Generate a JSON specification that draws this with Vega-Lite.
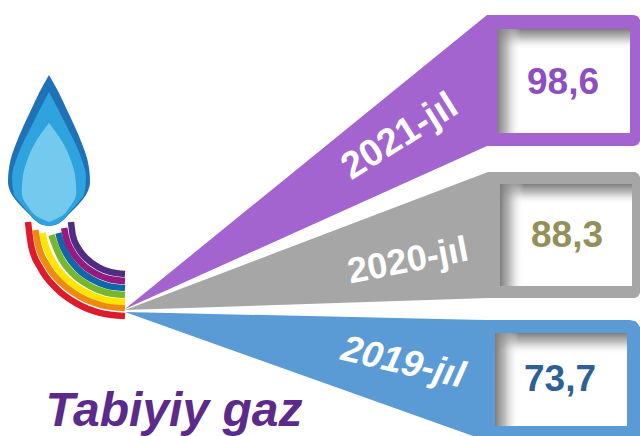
{"$schema":"https://vega.github.io/schema/vega-lite/v6.json","width":640,"height":436,"padding":0,"autosize":"none","background":"white","view":{"stroke":null},
"config":{"text":{"font":"Liberation Sans","fontWeight":"bold"}},
"datasets":{
"wedges":[
{"k":"2021-jıl","x":125,"a":309,"b":309},{"k":"2021-jıl","x":487,"a":15,"b":146},{"k":"2021-jıl","x":634,"a":15,"b":146},{"k":"2021-jıl","x":638,"a":16.5,"b":144.5},{"k":"2021-jıl","x":640,"a":20,"b":141},
{"k":"2020-jıl","x":125,"a":310,"b":310},{"k":"2020-jıl","x":488,"a":172,"b":298},{"k":"2020-jıl","x":635,"a":172,"b":298},{"k":"2020-jıl","x":638,"a":173.5,"b":296.5},{"k":"2020-jıl","x":640,"a":177,"b":293},
{"k":"2019-jıl","x":125,"a":312,"b":312},{"k":"2019-jıl","x":473,"a":319.7,"b":436},{"k":"2019-jıl","x":487,"a":320,"b":436},{"k":"2019-jıl","x":630,"a":320,"b":436},{"k":"2019-jıl","x":636,"a":321.5,"b":436},{"k":"2019-jıl","x":640,"a":327,"b":436}],
"boxes":[
{"k":"2021-jıl","x0":497,"x1":630,"y0":29,"y1":133,"xs":521,"ys":50},
{"k":"2020-jıl","x0":500,"x1":632,"y0":184,"y1":286,"xs":524,"ys":205},
{"k":"2019-jıl","x0":495,"x1":627,"y0":333,"y1":426,"xs":519,"ys":355}],
"flame":[
{"p":"a","y":75,"l":49,"r":49},{"p":"a","y":93,"l":39,"r":59},{"p":"a","y":110,"l":31,"r":67},{"p":"a","y":127,"l":23,"r":75},{"p":"a","y":145,"l":15.5,"r":82.5},{"p":"a","y":160,"l":10.5,"r":87.5},{"p":"a","y":172,"l":8.5,"r":89.5},{"p":"a","y":182,"l":8,"r":90},{"p":"a","y":193,"l":11,"r":87},{"p":"a","y":205,"l":20,"r":78},{"p":"a","y":214,"l":29,"r":69},{"p":"a","y":221,"l":36,"r":62},{"p":"a","y":225,"l":43,"r":55},{"p":"a","y":226,"l":49,"r":49},
{"p":"b","y":92,"l":49,"r":49},{"p":"b","y":110,"l":39.5,"r":58.5},{"p":"b","y":127,"l":31,"r":67},{"p":"b","y":145,"l":22,"r":76},{"p":"b","y":160,"l":16,"r":82},{"p":"b","y":177,"l":12,"r":86},{"p":"b","y":193,"l":13.5,"r":84.5},{"p":"b","y":205,"l":22,"r":76},{"p":"b","y":214,"l":30,"r":68},{"p":"b","y":221,"l":37,"r":61},{"p":"b","y":225,"l":44,"r":54},{"p":"b","y":226,"l":49,"r":49},
{"p":"c","y":123,"l":49,"r":49},{"p":"c","y":143,"l":35,"r":63},{"p":"c","y":160,"l":27.3,"r":70.7},{"p":"c","y":177,"l":22.7,"r":75.3},{"p":"c","y":193,"l":21.7,"r":76.3},{"p":"c","y":207,"l":28.3,"r":69.7},{"p":"c","y":217,"l":38,"r":60},{"p":"c","y":222,"l":49,"r":49}],
"rainbow":[
{"b":"red","x":28,"y":222},{"b":"red","x":31.3,"y":246.3},{"b":"red","x":41,"y":269},{"b":"red","x":56.4,"y":288.5},{"b":"red","x":76.5,"y":303.4},{"b":"red","x":99.9,"y":312.8},{"b":"red","x":125,"y":316},
{"b":"orange","x":35.4,"y":230},{"b":"orange","x":38,"y":244},{"b":"orange","x":47,"y":265},{"b":"orange","x":61.4,"y":282.8},{"b":"orange","x":80,"y":296.5},{"b":"orange","x":101.7,"y":305},{"b":"orange","x":125,"y":308},
{"b":"yellow","x":42.3,"y":233},{"b":"yellow","x":44.8,"y":243},{"b":"yellow","x":53,"y":262},{"b":"yellow","x":66.3,"y":278.6},{"b":"yellow","x":83.5,"y":291},{"b":"yellow","x":103.5,"y":299.3},{"b":"yellow","x":125,"y":302},
{"b":"green","x":51.5,"y":235},{"b":"green","x":53.5,"y":241},{"b":"green","x":61,"y":258.5},{"b":"green","x":72.7,"y":273.6},{"b":"green","x":88,"y":285},{"b":"green","x":105.8,"y":292.5},{"b":"green","x":125,"y":295},
{"b":"blue","x":58.5,"y":233},{"b":"blue","x":60,"y":239},{"b":"blue","x":67,"y":255},{"b":"blue","x":77.6,"y":268.7},{"b":"blue","x":91.5,"y":279},{"b":"blue","x":107.6,"y":285.8},{"b":"blue","x":125,"y":288},
{"b":"purple","x":64.2,"y":228},{"b":"purple","x":66,"y":237.3},{"b":"purple","x":72.2,"y":251.5},{"b":"purple","x":81.9,"y":263.7},{"b":"purple","x":94.5,"y":273},{"b":"purple","x":109.2,"y":279},{"b":"purple","x":125,"y":281},
{"b":"indigo","x":71,"y":222},{"b":"indigo","x":72.8,"y":235.5},{"b":"indigo","x":78.2,"y":248},{"b":"indigo","x":86.8,"y":258.8},{"b":"indigo","x":98,"y":267},{"b":"indigo","x":111,"y":272.2},{"b":"indigo","x":125,"y":274}],
"values":[
{"k":"2021-jıl","v":"98,6","x":563,"y":83},
{"k":"2020-jıl","v":"88,3","x":567,"y":236},
{"k":"2019-jıl","v":"73,7","x":560,"y":380}]
},
"layer":[
{"data":{"name":"wedges"},"mark":{"type":"area","interpolate":"linear","orient":"vertical"},
 "encoding":{"x":{"field":"x","type":"quantitative","scale":{"domain":[0,640],"nice":false,"zero":false},"axis":null},"y":{"field":"a","type":"quantitative","scale":{"domain":[436,0],"nice":false,"zero":false},"axis":null},"y2":{"field":"b"},
 "color":{"field":"k","type":"nominal","legend":null,"scale":{"domain":["2021-jıl","2020-jıl","2019-jıl"],"range":["#a364cf","#a6a6a6","#5b9bd5"]}}}},
{"data":{"name":"boxes"},"mark":{"type":"rect","color":"white"},"encoding":{"x":{"field":"x0","type":"quantitative"},"x2":{"field":"x1"},"y":{"field":"y0","type":"quantitative"},"y2":{"field":"y1"}}},
{"data":{"name":"boxes"},"mark":{"type":"rect","color":{"gradient":"linear","x1":0,"x2":0,"y1":0,"y2":1,"stops":[{"offset":0,"color":"rgba(125,125,125,1)"},{"offset":0.4,"color":"rgba(160,160,160,0.7)"},{"offset":1,"color":"rgba(255,255,255,0)"}]}},"encoding":{"x":{"field":"x0","type":"quantitative"},"x2":{"field":"x1"},"y":{"field":"y0","type":"quantitative"},"y2":{"field":"ys"}}},
{"data":{"name":"boxes"},"mark":{"type":"rect","color":{"gradient":"linear","x1":0,"x2":1,"y1":0,"y2":0,"stops":[{"offset":0,"color":"rgba(125,125,125,1)"},{"offset":0.4,"color":"rgba(160,160,160,0.7)"},{"offset":1,"color":"rgba(255,255,255,0)"}]}},"encoding":{"x":{"field":"x0","type":"quantitative"},"x2":{"field":"xs"},"y":{"field":"y0","type":"quantitative"},"y2":{"field":"y1"}}},
{"data":{"name":"rainbow"},"mark":{"type":"line","interpolate":"monotone","strokeWidth":6.5,"strokeCap":"butt"},
 "encoding":{"x":{"field":"x","type":"quantitative"},"y":{"field":"y","type":"quantitative"},"color":{"field":"b","type":"nominal","legend":null,"scale":{"domain":["red","orange","yellow","green","blue","purple","indigo"],"range":["#dd1b2d","#ee8a14","#ffe500","#76b82a","#0f66a8","#951b81","#4f2d85"]}}}},
{"data":{"name":"flame"},"transform":[{"filter":"datum.p=='a'"}],"mark":{"type":"area","orient":"horizontal","interpolate":"monotone","color":"#1f72b8"},"encoding":{"y":{"field":"y","type":"quantitative"},"x":{"field":"l","type":"quantitative"},"x2":{"field":"r"}}},
{"data":{"name":"flame"},"transform":[{"filter":"datum.p=='b'"}],"mark":{"type":"area","orient":"horizontal","interpolate":"monotone","color":"#2ea3dd"},"encoding":{"y":{"field":"y","type":"quantitative"},"x":{"field":"l","type":"quantitative"},"x2":{"field":"r"}}},
{"data":{"name":"flame"},"transform":[{"filter":"datum.p=='c'"}],"mark":{"type":"area","orient":"horizontal","interpolate":"monotone","color":"#74c9ee"},"encoding":{"y":{"field":"y","type":"quantitative"},"x":{"field":"l","type":"quantitative"},"x2":{"field":"r"}}},
{"data":{"values":[{"t":"2021-jıl","x":400,"y":137}]},"mark":{"type":"text","color":"white","fontSize":38,"angle":-32,"align":"center","baseline":"middle"},"encoding":{"x":{"field":"x","type":"quantitative"},"y":{"field":"y","type":"quantitative"},"text":{"field":"t"}}},
{"data":{"values":[{"t":"2020-jıl","x":408,"y":261}]},"mark":{"type":"text","color":"white","fontSize":36,"angle":-11,"align":"center","baseline":"middle"},"encoding":{"x":{"field":"x","type":"quantitative"},"y":{"field":"y","type":"quantitative"},"text":{"field":"t"}}},
{"data":{"values":[{"t":"2019-jıl","x":403,"y":363}]},"mark":{"type":"text","color":"white","fontSize":37,"fontStyle":"italic","angle":13,"align":"center","baseline":"middle"},"encoding":{"x":{"field":"x","type":"quantitative"},"y":{"field":"y","type":"quantitative"},"text":{"field":"t"}}},
{"data":{"name":"values"},"mark":{"type":"text","fontSize":37,"align":"center","baseline":"middle"},"encoding":{"x":{"field":"x","type":"quantitative"},"y":{"field":"y","type":"quantitative"},"text":{"field":"v"},"color":{"field":"k","type":"nominal","legend":null,"scale":{"domain":["2021-jıl","2020-jıl","2019-jıl"],"range":["#8e4dc0","#958f5a","#2e5f97"]}}}},
{"data":{"values":[{"t":"Tabiyiy gaz","x":174,"y":412}]},"mark":{"type":"text","color":"#5b2a8b","fontSize":48,"fontStyle":"italic","align":"center","baseline":"middle"},"encoding":{"x":{"field":"x","type":"quantitative"},"y":{"field":"y","type":"quantitative"},"text":{"field":"t"}}}
],
"resolve":{"scale":{"color":"independent"}}}
